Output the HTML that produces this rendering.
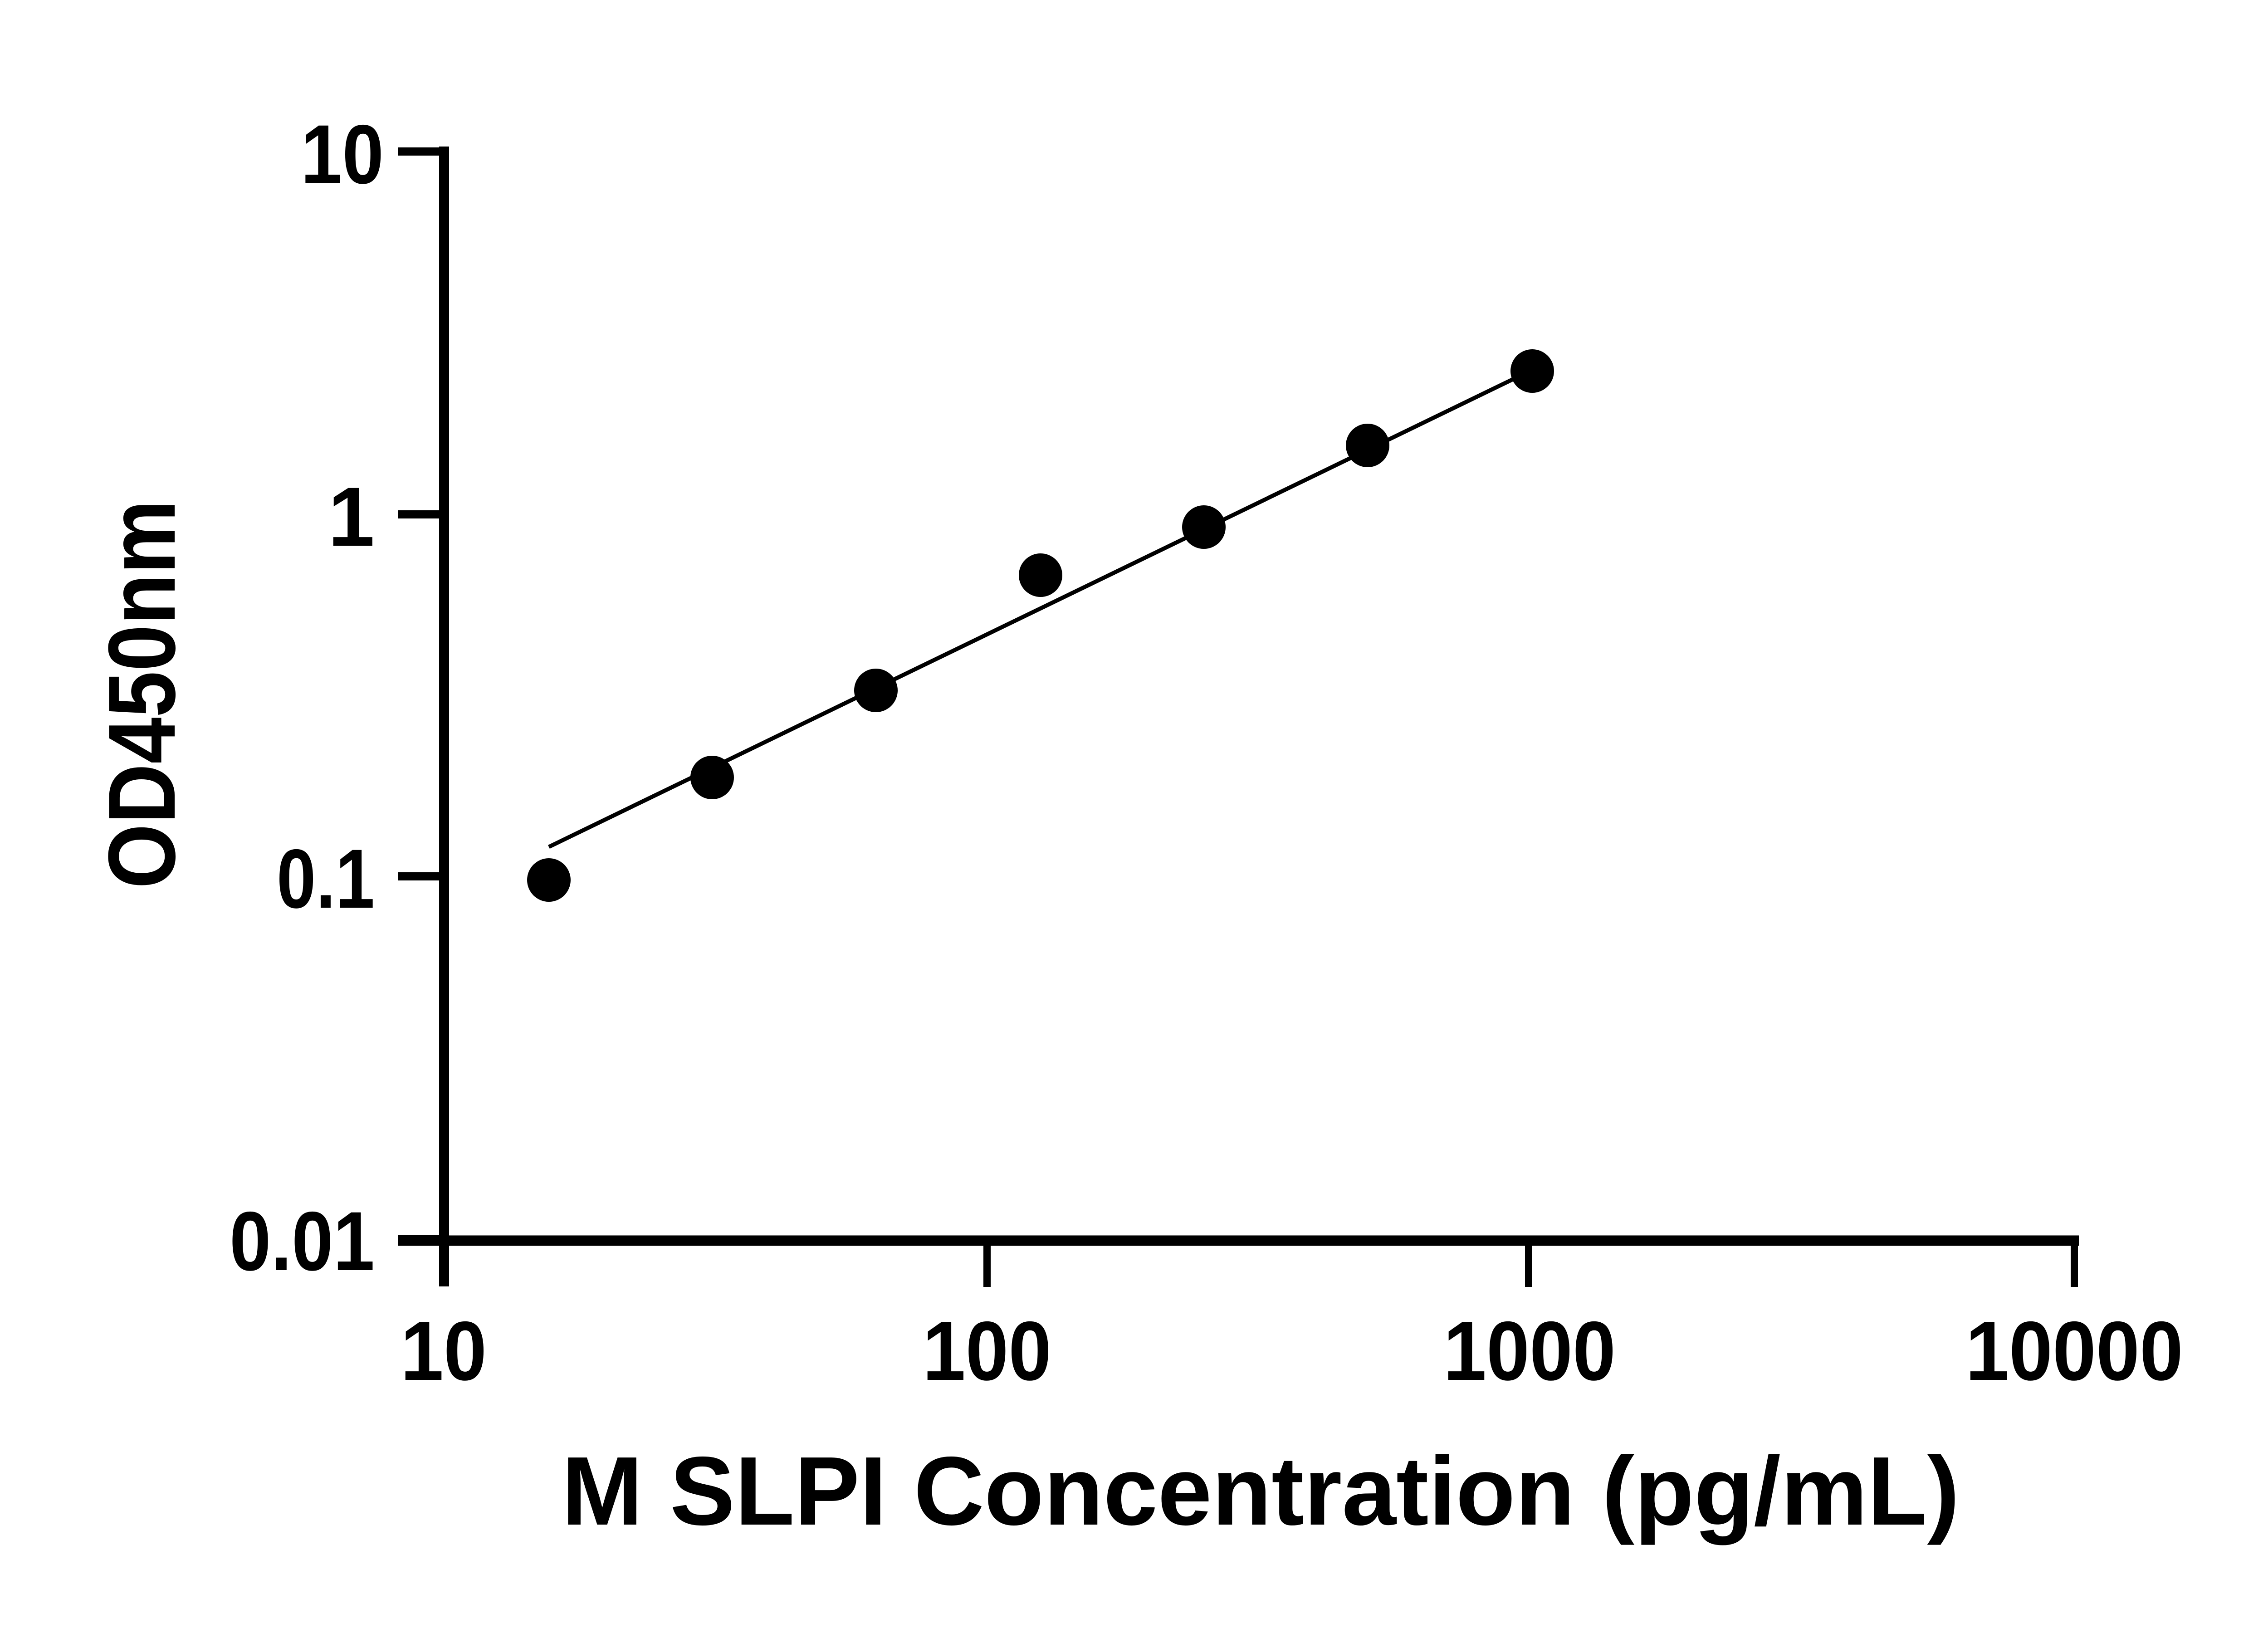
<!DOCTYPE html>
<html><head><meta charset="utf-8"><style>
html,body{margin:0;padding:0;background:#fff;}
svg{display:block;}
text{font-family:"Liberation Sans",sans-serif;font-weight:bold;fill:#000;}
</style></head><body>
<svg width="5130" height="3600" viewBox="0 0 5130 3600" xmlns="http://www.w3.org/2000/svg">
<rect width="5130" height="3600" fill="#fff"/>
<!-- y axis -->
<line x1="979" y1="323" x2="979" y2="2836" stroke="#000" stroke-width="22"/>
<g stroke="#000" stroke-width="18">
<line x1="877" y1="334" x2="979" y2="334"/>
<line x1="877" y1="1134" x2="979" y2="1134"/>
<line x1="877" y1="1932" x2="979" y2="1932"/>
<line x1="877" y1="2732" x2="979" y2="2732"/>
</g>
<!-- x axis -->
<line x1="877" y1="2735" x2="4583" y2="2735" stroke="#000" stroke-width="23"/>
<g stroke="#000" stroke-width="16">
<line x1="2176" y1="2735" x2="2176" y2="2837"/>
<line x1="3370" y1="2735" x2="3370" y2="2837"/>
<line x1="4573" y1="2735" x2="4573" y2="2837"/>
</g>
<!-- y tick labels -->
<g font-size="185" text-anchor="end">
<text x="846" y="404" textLength="183" lengthAdjust="spacingAndGlyphs">10</text>
<text x="826" y="1203">1</text>
<text x="826" y="2001" textLength="216" lengthAdjust="spacingAndGlyphs">0.1</text>
<text x="826" y="2800" textLength="320" lengthAdjust="spacingAndGlyphs">0.01</text>
</g>
<!-- x tick labels -->
<g font-size="185" text-anchor="middle">
<text x="978" y="3042" textLength="190" lengthAdjust="spacingAndGlyphs">10</text>
<text x="2176" y="3042" textLength="284" lengthAdjust="spacingAndGlyphs">100</text>
<text x="3372" y="3042" textLength="380" lengthAdjust="spacingAndGlyphs">1000</text>
<text x="4573" y="3042" textLength="480" lengthAdjust="spacingAndGlyphs">10000</text>
</g>
<!-- axis titles -->
<text x="1238" y="3361" font-size="215" textLength="3082" lengthAdjust="spacingAndGlyphs">M SLPI Concentration (pg/mL)</text>
<text transform="translate(385,1959) rotate(-90)" x="0" y="0" font-size="210" textLength="857" lengthAdjust="spacingAndGlyphs">OD450nm</text>
<!-- fit line -->
<line x1="1210" y1="1867" x2="3350" y2="829" stroke="#000" stroke-width="9"/>
<!-- points -->
<g fill="#000">
<circle cx="1210" cy="1940" r="48"/>
<circle cx="1570" cy="1714" r="48"/>
<circle cx="1931" cy="1522" r="48"/>
<circle cx="2294" cy="1268" r="48"/>
<circle cx="2654" cy="1162" r="48"/>
<circle cx="3015" cy="982" r="48"/>
<circle cx="3378" cy="818" r="48"/>
</g>
</svg>
</body></html>
